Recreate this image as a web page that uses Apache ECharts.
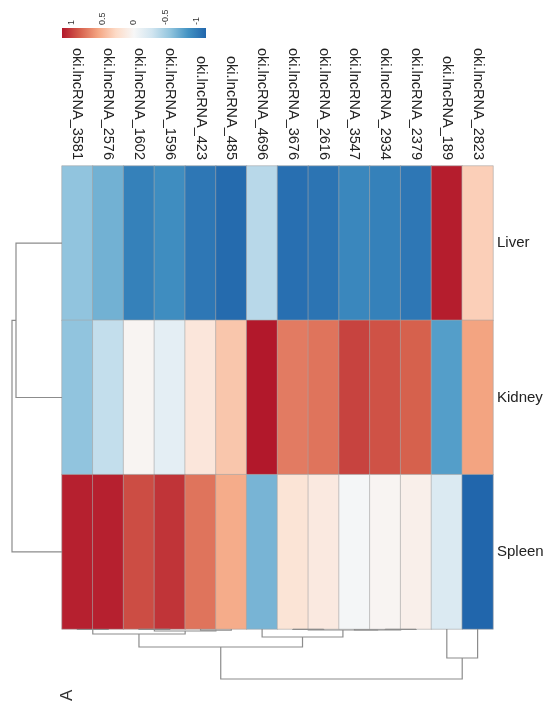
<!DOCTYPE html>
<html>
<head>
<meta charset="utf-8">
<title>lncRNA expression heatmap</title>
<script src="https://cdn.jsdelivr.net/npm/echarts@6/dist/echarts.min.js"></script>
<style>
  html, body { margin: 0; padding: 0; background: #ffffff; }
  #chart { width: 547px; height: 708px; }
</style>
</head>
<body>
<div id="chart"></div>
<script>
// Tissues (rows, top to bottom) and lncRNAs (columns, left to right)
const tissues = ['Liver', 'Kidney', 'Spleen'];
const genes = [
  'oki.lncRNA_3581', 'oki.lncRNA_2576', 'oki.lncRNA_1602', 'oki.lncRNA_1596',
  'oki.lncRNA_423', 'oki.lncRNA_485', 'oki.lncRNA_4696', 'oki.lncRNA_3676',
  'oki.lncRNA_2616', 'oki.lncRNA_3547', 'oki.lncRNA_2934', 'oki.lncRNA_2379',
  'oki.lncRNA_189', 'oki.lncRNA_2823'
];

// Per-gene scaled expression (z-score) in each tissue
const liverZ  = [-0.58, -0.69, -0.98, -0.90, -1.04, -1.12, -0.40, -1.09, -1.06, -0.94, -0.98, -1.04, 1.13, 0.35];
const kidneyZ = [-0.58, -0.35, 0.03, -0.14, 0.17, 0.40, 1.15, 0.75, 0.78, 0.98, 0.92, 0.86, -0.80, 0.58];
const spleenZ = [1.12, 1.12, 0.94, 1.04, 0.78, 0.54, -0.67, 0.20, 0.14, -0.02, 0.03, 0.08, -0.21, -1.15];

// Colour scale range and the tick values printed on the colour key
const zMin = -1.15;
const zMax = 1.15;
const keyTicks = [-1, -0.5, 0, 0.5, 1];

// Column clustering (hclust-style: negative = leaf, positive = earlier merge)
const colMerge = [
  [-1, -2], [-3, -4], [-5, -6], [2, 3], [1, 4],
  [-8, -9], [-11, -12], [-10, 7], [6, 8], [-7, 9],
  [5, 10], [-13, -14], [11, 12]
];
const colHeight = [0.5, 0.3, 1.2, 2, 5, 0.3, 0.3, 0.8, 1, 8, 18, 29, 50];

// Row clustering
const rowMerge = [[-1, -2], [-3, 1]];
const rowHeight = [46, 50];

// RdBu palette, low to high
const rdbu = ['#2166AC', '#4393C3', '#92C5DE', '#D1E5F0', '#F7F7F7', '#FDDBC7', '#F4A582', '#D6604D', '#B2182B'];

const FONT = "'Liberation Sans', Arial, Helvetica, sans-serif";
const LINE = '#8c8c8c';

// Heatmap cells: [column, row, value]
const rows = [liverZ, kidneyZ, spleenZ];
const cells = [];
rows.forEach(function (vals, r) {
  vals.forEach(function (v, c) { cells.push([c, r, v]); });
});

// Turn a merge table into bracket segments: [posA, heightA, posB, heightB, mergeHeight]
function dendroSegments(merge, heights) {
  const pos = [];
  const hgt = [];
  const segs = [];
  function child(id) {
    if (id < 0) return { p: -id - 1 + 0.5, h: 0 };
    return { p: pos[id - 1], h: hgt[id - 1] };
  }
  merge.forEach(function (m, i) {
    const a = child(m[0]);
    const b = child(m[1]);
    const h = heights[i];
    pos.push((a.p + b.p) / 2);
    hgt.push(h);
    segs.push([a.p, a.h, b.p, b.h, h]);
  });
  return segs;
}

const colSegs = dendroSegments(colMerge, colHeight);
const rowSegs = dendroSegments(rowMerge, rowHeight);

const chart = echarts.init(document.getElementById('chart'), null, { renderer: 'canvas' });

const option = {
  backgroundColor: '#ffffff',
  animation: false,
  textStyle: { fontFamily: FONT },
  grid: [
    { left: 62, top: 166, width: 431, height: 463 },   // heatmap
    { left: 62, top: 629, width: 431, height: 50 },    // column tree
    { left: 12, top: 166, width: 50, height: 463 },    // row tree
    { left: 62, top: 28, width: 144, height: 10 }      // colour key
  ],
  xAxis: [
    {
      gridIndex: 0, type: 'category', data: genes, position: 'top',
      axisLine: { show: false }, axisTick: { show: false }, splitLine: { show: false },
      axisLabel: { rotate: 90, interval: 0, fontSize: 14.5, color: '#222', margin: 6, fontFamily: FONT }
    },
    { gridIndex: 1, type: 'value', min: 0, max: genes.length, show: false },
    { gridIndex: 2, type: 'value', min: 0, max: 50, inverse: true, show: false },
    {
      gridIndex: 3, type: 'value', min: zMin, max: zMax, inverse: true, position: 'top',
      axisLine: { show: false }, axisTick: { show: false }, splitLine: { show: false },
      axisLabel: { customValues: keyTicks, rotate: 90, fontSize: 9, color: '#333', margin: 3, fontFamily: FONT }
    }
  ],
  yAxis: [
    {
      gridIndex: 0, type: 'category', data: tissues, inverse: true, position: 'right',
      axisLine: { show: false }, axisTick: { show: false }, splitLine: { show: false },
      axisLabel: { fontSize: 15, color: '#222', margin: 4, fontFamily: FONT }
    },
    { gridIndex: 1, type: 'value', min: 0, max: 50, inverse: true, show: false },
    { gridIndex: 2, type: 'value', min: 0, max: tissues.length, inverse: true, show: false },
    { gridIndex: 3, type: 'value', min: 0, max: 1, show: false }
  ],
  visualMap: {
    show: false, type: 'continuous', min: zMin, max: zMax, seriesIndex: 0,
    inRange: { color: rdbu }
  },
  series: [
    {
      type: 'heatmap', xAxisIndex: 0, yAxisIndex: 0, data: cells,
      itemStyle: { borderColor: '#a6a6a6', borderWidth: 0.6 },
      emphasis: { disabled: true }
    },
    {
      // column dendrogram, hanging below the heatmap
      type: 'custom', xAxisIndex: 1, yAxisIndex: 1, data: colSegs, silent: true,
      renderItem: function (params, api) {
        const pts = [
          api.coord([api.value(0), api.value(1)]),
          api.coord([api.value(0), api.value(4)]),
          api.coord([api.value(2), api.value(4)]),
          api.coord([api.value(2), api.value(3)])
        ];
        return { type: 'polyline', shape: { points: pts }, style: { stroke: LINE, lineWidth: 1.2, fill: null } };
      }
    },
    {
      // row dendrogram, to the left of the heatmap
      type: 'custom', xAxisIndex: 2, yAxisIndex: 2, data: rowSegs, silent: true,
      renderItem: function (params, api) {
        const pts = [
          api.coord([api.value(1), api.value(0)]),
          api.coord([api.value(4), api.value(0)]),
          api.coord([api.value(4), api.value(2)]),
          api.coord([api.value(3), api.value(2)])
        ];
        return { type: 'polyline', shape: { points: pts }, style: { stroke: LINE, lineWidth: 1.2, fill: null } };
      }
    },
    {
      // colour key bar
      type: 'custom', xAxisIndex: 3, yAxisIndex: 3, data: [[0]], silent: true,
      renderItem: function (params, api) {
        const a = api.coord([zMax, 1]);
        const b = api.coord([zMin, 0]);
        const stops = rdbu.slice().reverse().map(function (c, i, arr) {
          return { offset: i / (arr.length - 1), color: c };
        });
        return {
          type: 'rect',
          shape: { x: a[0], y: a[1], width: b[0] - a[0], height: b[1] - a[1] },
          style: { fill: new echarts.graphic.LinearGradient(0, 0, 1, 0, stops) }
        };
      }
    }
  ],
  graphic: [
    {
      type: 'text', x: 67, y: 701, rotation: Math.PI / 2,
      style: { text: 'A', font: '17px ' + FONT, fill: '#333', align: 'left', verticalAlign: 'middle' }
    }
  ]
};

chart.setOption(option);
</script>
</body>
</html>
